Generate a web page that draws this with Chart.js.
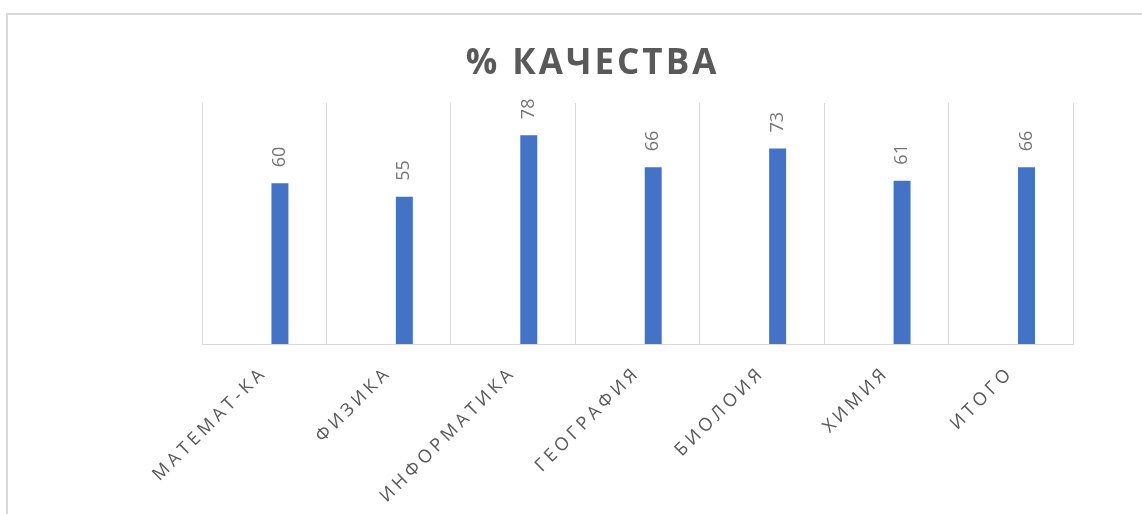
<!DOCTYPE html>
<html>
<head>
<meta charset="utf-8">
<script src="https://cdn.jsdelivr.net/npm/chart.js@4.4.1/dist/chart.umd.min.js"></script>
<style>
  html, body { margin: 0; padding: 0; background: #fff; }
  #wrap { position: relative; width: 1142px; height: 514px; overflow: hidden; }
  #frame { position: absolute; left: 6px; top: 13px; width: 1200px; height: 600px;
           border: 2px solid #d9d9d9; box-sizing: border-box; }
  canvas { position: absolute; left: 0; top: 0; }
</style>
</head>
<body>
<div id="wrap">
  <div id="frame"></div>
  <canvas id="chart" width="1142" height="514"></canvas>
</div>
<script>
const chartTitle = "% КАЧЕСТВА";
const subjects = ["МАТЕМАТ-КА", "ФИЗИКА", "ИНФОРМАТИКА", "ГЕОГРАФИЯ", "БИОЛОИЯ", "ХИМИЯ", "ИТОГО"];
// first series is empty in the source chart, it only takes the left half of each group
const emptySeries = [null, null, null, null, null, null, null];
const quality = [60, 55, 78, 66, 73, 61, 66];
const yMax = 90;

const gray = "#595959";

// title + rotated value labels, drawn by hand
const extras = {
  id: "extras",
  beforeDraw(chart) {
    const ctx = chart.ctx;
    ctx.save();
    ctx.font = "bold 35px 'Open Sans'";
    ctx.fillStyle = gray;
    ctx.textAlign = "center";
    ctx.textBaseline = "middle";
    ctx.letterSpacing = "3px";
    ctx.fillText(chartTitle, 592.5, 64);
    ctx.restore();
    ctx.letterSpacing = "4px";   // spaced category labels like the original
  },
  afterDatasetsDraw(chart) {
    const ctx = chart.ctx;
    ctx.letterSpacing = "0px";
    const meta = chart.getDatasetMeta(1);
    ctx.save();
    ctx.font = "18px 'Open Sans'";
    ctx.fillStyle = "#767676";
    ctx.textAlign = "left";
    ctx.textBaseline = "middle";
    meta.data.forEach((bar, i) => {
      ctx.save();
      ctx.translate(bar.x, bar.y - 16);
      ctx.rotate(-Math.PI / 2);
      ctx.fillText(String(quality[i]), 0, 0);
      ctx.restore();
    });
    ctx.restore();
  }
};

new Chart(document.getElementById("chart"), {
  type: "bar",
  data: {
    labels: subjects,
    datasets: [
      { label: "", data: emptySeries, backgroundColor: "#ed7d31" },
      { label: "% качества", data: quality, backgroundColor: "#4472C4",
        categoryPercentage: 0.505, barPercentage: 0.54 }
    ]
  },
  options: {
    responsive: false,
    animation: false,
    devicePixelRatio: 1,
    layout: { padding: { left: 202, right: 69, top: 103, bottom: 0 } },
    plugins: {
      legend: { display: false },
      title: { display: false },
      tooltip: { enabled: false }
    },
    datasets: { bar: { categoryPercentage: 0.505, barPercentage: 0.54 } },
    scales: {
      x: {
        grid: { display: true, offset: true, color: "#d9d9d9", lineWidth: 1, drawTicks: false },
        border: { display: true, color: "#d9d9d9", width: 1 },
        ticks: {
          color: gray,
          font: { family: "'Open Sans'", size: 18 },
          minRotation: 45, maxRotation: 45,
          autoSkip: false,
          padding: 18
        },
        afterFit(scale) { scale.height = 170; }
      },
      y: {
        display: false,
        min: 0,
        max: yMax
      }
    }
  },
  plugins: [extras]
});
</script>
</body>
</html>
